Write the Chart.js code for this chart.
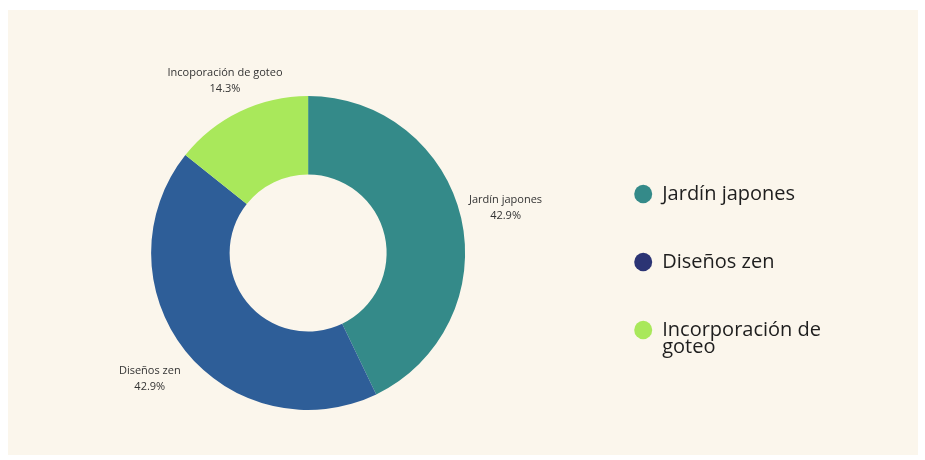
<!DOCTYPE html>
<html>
<head>
<meta charset="utf-8">
<script src="https://cdn.jsdelivr.net/npm/chart.js@4"></script>
<style>
  html, body { margin: 0; padding: 0; background: #ffffff; }
  #marco {
    position: absolute; left: 8px; top: 10px; width: 910px; height: 445px;
    background: #fbf6ec;
  }
</style>
</head>
<body>
<div id="marco"><canvas id="donaChart"></canvas></div>
<script>
const etiquetas = ['Jardín japones', 'Diseños zen', 'Incoporación de goteo'];
const etiquetasLeyenda = [['Jardín japones'], ['Diseños zen'], ['Incorporación de', 'goteo']];
const valores = [3, 3, 1];
const porcentajes = ['42.9%', '42.9%', '14.3%'];

const coloresSector = ['#348a89', '#2e5e98', '#a9e85b'];
const coloresLeyenda = ['#348a89', '#2b3474', '#a9e85b'];

// etiquetas fuera de cada sector
const etiquetasFuera = {
    id: 'etiquetasFuera',
    afterDatasetsDraw(chart) {
        const ctx = chart.ctx;
        const meta = chart.getDatasetMeta(0);
        ctx.save();
        ctx.font = '11px "Open Sans", sans-serif';
        ctx.fillStyle = '#333333';
        ctx.textAlign = 'center';
        ctx.textBaseline = 'middle';
        meta.data.forEach((arc, i) => {
            const {startAngle, endAngle, outerRadius, x, y} = arc.getProps(['startAngle', 'endAngle', 'outerRadius', 'x', 'y'], true);
            const medio = (startAngle + endAngle) / 2;
            const r = outerRadius * (i === 2 ? 1.22 : 1.29);
            const px = x + Math.cos(medio) * r;
            const py = y + Math.sin(medio) * r;
            ctx.fillText(etiquetas[i], px, py - 8);
            ctx.fillText(porcentajes[i], px, py + 8);
        });
        ctx.restore();
    }
};

const ctx = document.getElementById('donaChart').getContext('2d');
new Chart(ctx, {
    type: 'doughnut',
    data: {
        labels: etiquetas,
        datasets: [{
            data: valores,
            backgroundColor: coloresSector,
            borderWidth: 0
        }]
    },
    options: {
        responsive: true,
        maintainAspectRatio: false,
        animation: false,
        cutout: '50%',
        layout: {
            padding: { top: 86, bottom: 45, left: 25, right: 87 }
        },
        plugins: {
            tooltip: { enabled: false },
            legend: {
                display: true,
                position: 'right',
                title: {
                    display: true,
                    text: '',
                    font: { size: 10, lineHeight: 1 },
                    padding: { top: 0, bottom: 22 }
                },
                labels: {
                    usePointStyle: true,
                    pointStyle: 'circle',
                    boxHeight: 13,
                    pointStyleWidth: 18,
                    padding: 51,
                    color: '#1e1e1e',
                    font: { family: '"Open Sans", sans-serif', size: 20, lineHeight: 0.85 },
                    generateLabels: () => etiquetasLeyenda.map((t, i) => ({
                        text: t,
                        fillStyle: coloresLeyenda[i],
                        strokeStyle: coloresLeyenda[i],
                        fontColor: '#1e1e1e',
                        lineWidth: 0,
                        pointStyle: 'circle',
                        hidden: false,
                        index: i
                    }))
                }
            }
        }
    },
    plugins: [etiquetasFuera]
});
</script>
</body>
</html>
